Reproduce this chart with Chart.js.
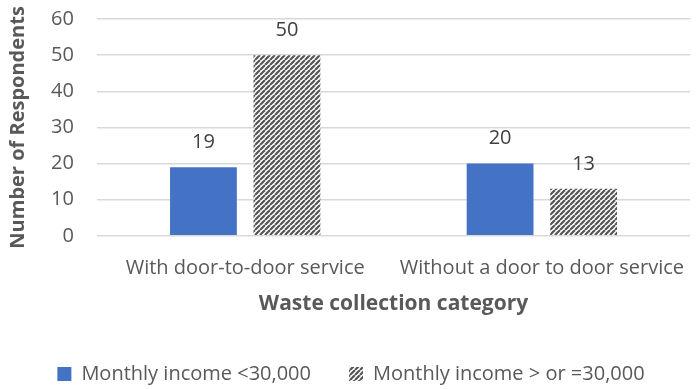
<!DOCTYPE html>
<html>
<head>
<meta charset="utf-8">
<script src="https://cdn.jsdelivr.net/npm/chart.js@4/dist/chart.umd.min.js"></script>
<style>
  html, body { margin: 0; padding: 0; background: #fff; }
  #wrap { width: 696px; height: 389px; }
</style>
</head>
<body>
<div id="wrap"><canvas id="chart" width="696" height="389"></canvas></div>
<script>
const categories = ['With door-to-door service', 'Without a door to door service'];
const lowIncome = [19, 20];
const highIncome = [50, 13];
const seriesNames = ['Monthly income <30,000', 'Monthly income > or =30,000'];
const yTicks = [0, 10, 20, 30, 40, 50, 60];

const FONT = "'Open Sans', 'Liberation Sans', sans-serif";
const GREY = '#595959';

// diagonal stripe fill for the second series
function makeHatch() {
  const c = document.createElement('canvas');
  c.width = 5; c.height = 5;
  const g = c.getContext('2d');
  g.fillStyle = '#fff';
  g.fillRect(0, 0, 5, 5);
  g.strokeStyle = '#555555';
  g.lineWidth = 2.2;
  g.beginPath();
  for (let k = -5; k <= 10; k += 5) {
    g.moveTo(k, 5);
    g.lineTo(k + 5, 0);
  }
  g.stroke();
  return g.createPattern(c, 'repeat');
}
const hatch = makeHatch();

const valueLabels = {
  id: 'valueLabels',
  afterDatasetsDraw(chart) {
    const ctx = chart.ctx;
    ctx.save();
    ctx.font = '20px ' + FONT;
    ctx.fillStyle = '#404040';
    ctx.textAlign = 'center';
    ctx.textBaseline = 'middle';
    chart.data.datasets.forEach((ds, i) => {
      chart.getDatasetMeta(i).data.forEach((bar, j) => {
        ctx.fillText(ds.data[j], bar.x, bar.y - 25);
      });
    });
    ctx.restore();
  }
};

new Chart(document.getElementById('chart'), {
  type: 'bar',
  data: {
    labels: categories,
    datasets: [
      { label: seriesNames[0], data: lowIncome, backgroundColor: '#4472c4',
        categoryPercentage: 0.563, barPercentage: 0.8 },
      { label: seriesNames[1], data: highIncome, backgroundColor: hatch,
        categoryPercentage: 0.563, barPercentage: 0.8 }
    ]
  },
  options: {
    responsive: false,
    animation: false,
    layout: { padding: { left: 6, right: 0, top: 8, bottom: -5 } },
    scales: {
      x: {
        grid: { display: false },
        border: { display: false },
        ticks: { color: GREY, font: { family: FONT, size: 20 }, padding: 12, maxRotation: 0, autoSkip: false },
        title: { display: true, text: 'Waste collection category', color: GREY,
                 font: { family: FONT, size: 21, weight: 'bold' }, padding: { top: 0, bottom: 9 } }
      },
      y: {
        min: 0, max: 60,
        afterBuildTicks(axis) { axis.ticks = yTicks.map(v => ({ value: v })); },
        grid: { color: '#d9d9d9', lineWidth: 1.5, drawTicks: true, tickLength: 16, tickColor: 'rgba(0,0,0,0)' },
        border: { display: false },
        ticks: { color: GREY, font: { family: FONT, size: 20 }, padding: 7 },
        title: { display: true, text: 'Number of Respondents', color: GREY,
                 font: { family: FONT, size: 20, weight: 'bold' }, padding: { top: 0, bottom: 14 } }
      }
    },
    plugins: {
      legend: {
        position: 'bottom',
        labels: { color: GREY, font: { family: FONT, size: 20 }, boxWidth: 14, boxHeight: 14, padding: 38 }
      },
      tooltip: { enabled: false }
    }
  },
  plugins: [valueLabels]
});
</script>
</body>
</html>
